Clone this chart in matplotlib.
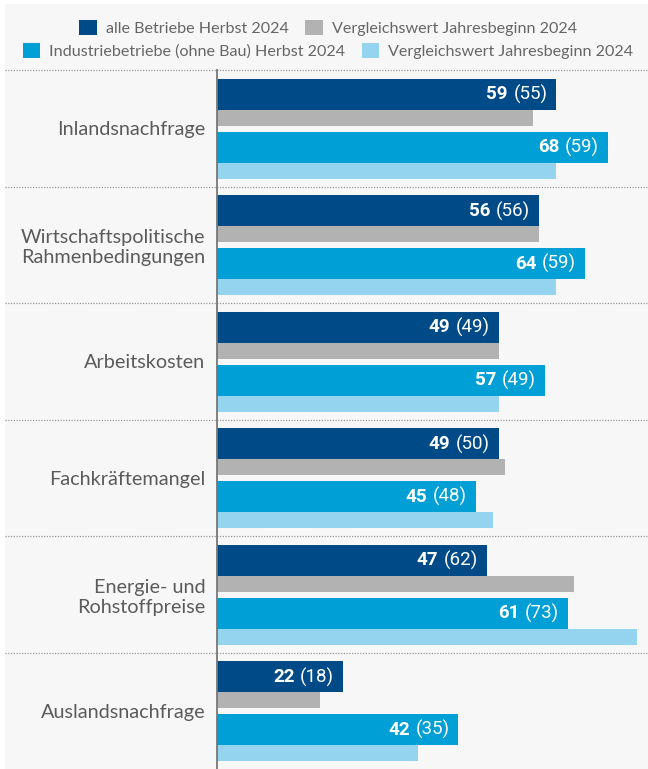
import matplotlib
matplotlib.use("Agg")
import matplotlib.pyplot as plt
from matplotlib.patches import Rectangle, Patch
from matplotlib.transforms import blended_transform_factory
import numpy as np

categories = ["Inlandsnachfrage", "Wirtschaftspolitische\nRahmenbedingungen", "Arbeitskosten",
              "Fachkräftemangel", "Energie- und\nRohstoffpreise", "Auslandsnachfrage"]
alle_herbst = [59, 56, 49, 49, 47, 22]
alle_vorher = [55, 56, 49, 50, 62, 18]
ind_herbst = [68, 64, 57, 45, 61, 42]
ind_vorher = [59, 59, 49, 48, 73, 35]

series_names = ["alle Betriebe Herbst 2024", "Vergleichswert Jahresbeginn 2024",
                "Industriebetriebe (ohne Bau) Herbst 2024", "Vergleichswert Jahresbeginn 2024"]
colors = ["#004b87", "#b2b2b2", "#00a0d6", "#94d4ef"]

BG = "#f7f7f7"
TXT = "#5b5b5b"
plt.rcParams["font.family"] = ["Lato", "DejaVu Sans"]

W, H = 648, 769
fig = plt.figure(figsize=(W / 100, H / 100), dpi=100, facecolor="white")
fig.patches.append(Rectangle((5 / W, 0), 1, 1 - 4 / H, transform=fig.transFigure,
                             facecolor=BG, edgecolor="none", zorder=-10))

ax = fig.add_axes([216.5 / W, 0, 1 - 216.5 / W, 1 - 70 / H])
ax.patch.set_alpha(0)

y = np.arange(len(categories))
# offsets within each group (group height = 1)
offs = [0.21, 0.411, 0.664, 0.866]
hts = [0.266, 0.137, 0.266, 0.137]
data = [alle_herbst, alle_vorher, ind_herbst, ind_vorher]

for d, o, h, c in zip(data, offs, hts, colors):
    ax.barh(y + o, d, height=h, color=c, edgecolor="none", zorder=2)

# value labels: bold current value plus previous value in brackets
for cur, prev, o in [(alle_herbst, alle_vorher, offs[0]), (ind_herbst, ind_vorher, offs[2])]:
    for i in range(len(categories)):
        t = ax.annotate(f"({prev[i]})", xy=(cur[i], y[i] + o), xytext=(-6.5, 0),
                        textcoords="offset points", ha="right", va="center",
                        color="white", fontsize=13.5, family="Roboto", zorder=3)
        ax.annotate(f"{cur[i]}", xy=(0, 0.5), xycoords=t, xytext=(-4, 0),
                    textcoords="offset points", ha="right", va="center",
                    color="white", fontsize=13.5, family="Roboto", fontweight="bold", zorder=3)

ax.set_xlim(0, (W - 216.5) / 5.76)
ax.set_ylim(len(categories), 0)
ax.set_xticks([])
ax.set_yticks(y + 0.5)
ax.set_yticklabels(categories, fontsize=14.3, color=TXT, multialignment="right")
ax.tick_params(axis="y", length=0, pad=8)

for s in ["top", "right", "bottom"]:
    ax.spines[s].set_visible(False)
ax.spines["left"].set_color("#777777")
ax.spines["left"].set_linewidth(1.3)
ax.spines["left"].set_zorder(4)

# dotted separators across the full width
tr = blended_transform_factory(fig.transFigure, ax.transData)
for i in range(len(categories)):
    ax.plot([5 / W, 1], [i, i], transform=tr, color="#9a9a9a", lw=0.9,
            ls=(0, (1, 1.2)), clip_on=False, zorder=1)

# legend in two centred rows
handles = [Patch(facecolor=c, edgecolor="none") for c in colors]
leg_kw = dict(ncol=2, frameon=False, fontsize=11.6, handlelength=1.1, handleheight=1.1,
              handletextpad=0.55, columnspacing=1.0, labelcolor="#666666", borderpad=0)
fig.legend(handles[:2], series_names[:2], loc="center", bbox_to_anchor=(328 / W, 1 - 28 / H), **leg_kw)
fig.legend(handles[2:], series_names[2:], loc="center", bbox_to_anchor=(328 / W, 1 - 51 / H), **leg_kw)

fig.savefig("out.png", dpi=100, facecolor=fig.get_facecolor())
